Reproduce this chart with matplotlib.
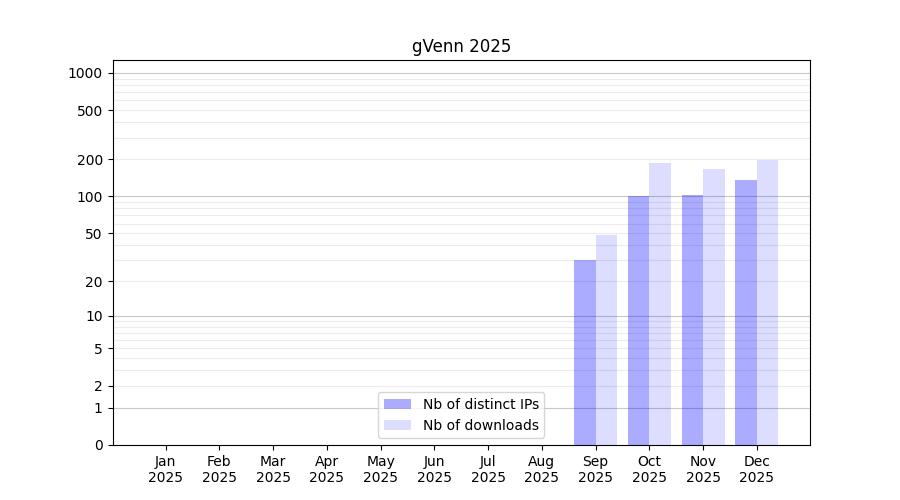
import matplotlib
matplotlib.use('Agg')

import numpy as np
import matplotlib.pyplot as plt

# monthly stats for 2025
months = ['Jan', 'Feb', 'Mar', 'Apr', 'May', 'Jun',
          'Jul', 'Aug', 'Sep', 'Oct', 'Nov', 'Dec']
year = '2025'
distinct_ips = [0, 0, 0, 0, 0, 0, 0, 0, 30, 100, 103, 136]
downloads = [0, 0, 0, 0, 0, 0, 0, 0, 48, 187, 167, 198]
ytick_values = [0, 1, 2, 5, 10, 20, 50, 100, 200, 500, 1000]


def fwd(x):
    return np.log10(np.asarray(x, dtype=float) + 1)


def inv(y):
    return 10 ** np.asarray(y, dtype=float) - 1


x = np.arange(len(months))
fig, ax = plt.subplots(figsize=(9, 5), dpi=100)

ax.bar(x, distinct_ips, width=-0.4, align='edge', color='blue', alpha=0.33,
       label='Nb of distinct IPs', zorder=2)
ax.bar(x, downloads, width=0.4, align='edge', color='blue', alpha=0.135,
       label='Nb of downloads', zorder=2)

ax.set_yscale('function', functions=(fwd, inv))
ax.set_ylim(0, 1270)
ax.set_yticks(ytick_values)
ax.set_yticklabels([str(v) for v in ytick_values])
ax.minorticks_off()

# grid: decades darker, intermediate values light
for dec in [1, 10, 100, 1000]:
    for k in range(1, 10):
        v = dec * k
        if v > 1270:
            continue
        if k == 1:
            ax.axhline(v, color='#c8c8c8', lw=0.8, zorder=1)
        else:
            ax.axhline(v, color='#ececec', lw=0.8, zorder=1)

ax.set_xticks(x)
ax.set_xticklabels([f'{m}\n{year}' for m in months])

ax.set_title('gVenn 2025')
ax.legend(loc='lower center')

plt.savefig('out.png')
plt.close()
